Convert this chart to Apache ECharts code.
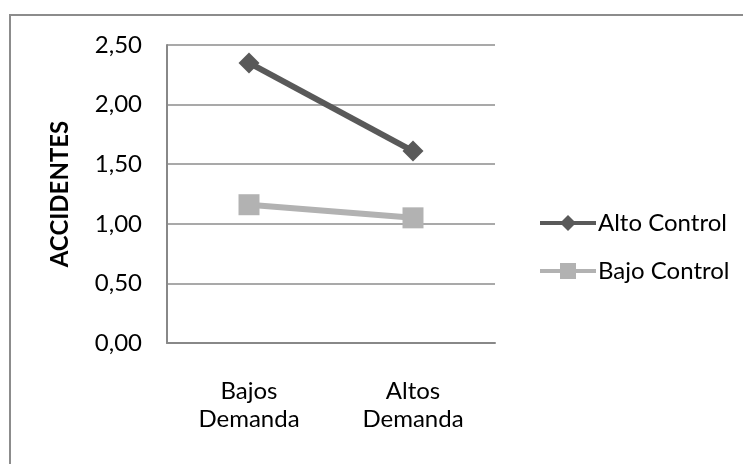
<!DOCTYPE html>
<html>
<head>
<meta charset="utf-8">
<script src="https://cdn.jsdelivr.net/npm/echarts@6/dist/echarts.min.js"></script>
<style>
  html, body { margin: 0; padding: 0; background: #fff; }
  #chart { width: 743px; height: 464px; }
</style>
</head>
<body>
<div id="chart"></div>
<script>
// Accidents by demand level, split by control level
const categories = ['Bajos\nDemanda', 'Altos\nDemanda'];
const altoControl = [2.35, 1.61];
const bajoControl = [1.16, 1.05];
const seriesNames = ['Alto Control', 'Bajo Control'];

const FONT = 'Lato, "Open Sans", sans-serif';
const FS = 24;
const chart = echarts.init(document.getElementById('chart'), null, { renderer: 'canvas' });

chart.setOption({
  backgroundColor: '#ffffff',
  animation: false,
  graphic: [{
    type: 'rect',
    shape: { x: 10, y: 15, width: 800, height: 500 },
    style: { fill: 'none', stroke: '#8c8c8c', lineWidth: 2 },
    silent: true
  }],
  grid: { left: 167, top: 45, width: 328, height: 298, containLabel: false },
  legend: {
    orient: 'vertical',
    left: 533,
    top: 206,
    itemWidth: 56,
    itemHeight: 20,
    itemGap: 24,
    lineStyle: { width: 4 },
    textStyle: { fontFamily: FONT, fontSize: FS, color: '#000', padding: [0, 0, 0, -3] },
    data: seriesNames
  },
  xAxis: {
    type: 'category',
    data: categories,
    boundaryGap: true,
    axisLine: { lineStyle: { color: '#888', width: 2 } },
    axisTick: { show: false },
    axisLabel: { fontFamily: FONT, fontSize: FS, color: '#000', lineHeight: 28, margin: 34 }
  },
  yAxis: {
    type: 'value',
    min: 0,
    max: 2.5,
    interval: 0.5,
    name: 'ACCIDENTES',
    nameLocation: 'middle',
    nameGap: 95,
    nameRotate: 90,
    nameTextStyle: { fontFamily: FONT, fontSize: FS, fontWeight: 'bold', color: '#000' },
    axisLine: { show: true, lineStyle: { color: '#888', width: 2 } },
    axisTick: { show: false },
    splitLine: { lineStyle: { color: '#8c8c8c', width: 1.5 } },
    axisLabel: {
      fontFamily: FONT, fontSize: FS, color: '#000', margin: 25,
      formatter: v => v.toFixed(2).replace('.', ',')
    }
  },
  series: [
    {
      name: seriesNames[0],
      type: 'line',
      data: altoControl,
      color: '#595959',
      symbol: 'diamond',
      symbolSize: 21,
      lineStyle: { width: 6, color: '#595959' },
      itemStyle: { color: '#595959' }
    },
    {
      name: seriesNames[1],
      type: 'line',
      data: bajoControl,
      color: '#b2b2b2',
      symbol: 'rect',
      symbolSize: 21,
      lineStyle: { width: 6, color: '#b2b2b2' },
      itemStyle: { color: '#b2b2b2' }
    }
  ]
});
</script>
</body>
</html>
